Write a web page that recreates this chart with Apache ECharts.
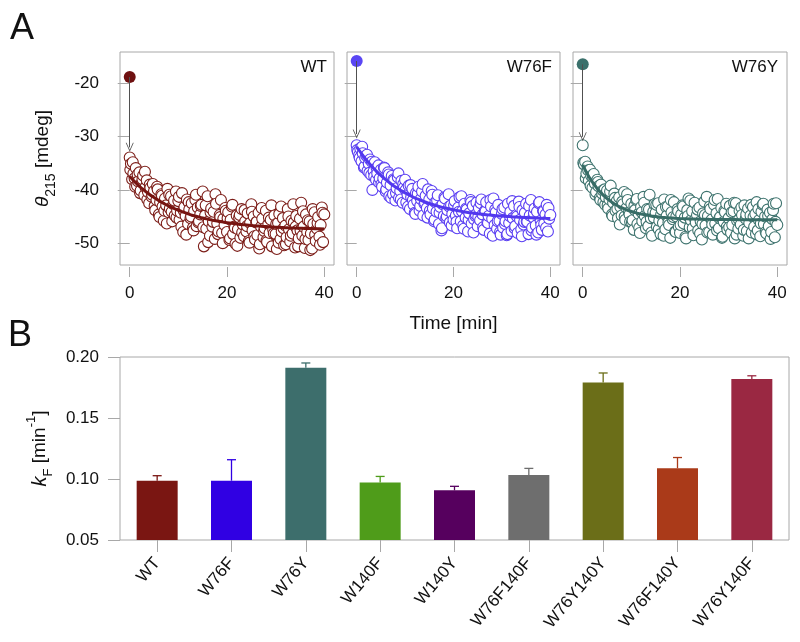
<!DOCTYPE html>
<html><head><meta charset="utf-8">
<script src="https://cdn.jsdelivr.net/npm/echarts@6/dist/echarts.min.js"></script>
<style>html,body{margin:0;padding:0;background:#fff}#c{width:800px;height:642px}</style>
</head><body><div id="c"></div>
<script>
// ---------- Panel A data ----------
const TIMES = [
 0,0.25,0.5,0.75,1,1.25,1.5,1.75,2,2.25,2.5,2.75,3,3.25,3.5,3.75,4,4.25,4.5,4.75,
 5,5.25,5.5,5.75,6,6.25,6.5,6.75,7,7.25,7.5,7.75,8,8.25,8.5,8.75,9,9.25,9.5,9.75,
 10,10.25,10.5,10.75,11,11.25,11.5,11.75,12,12.25,12.5,12.75,13,13.25,13.5,13.75,14,14.25,14.5,14.75,
 15,15.25,15.5,15.75,16,16.25,16.5,16.75,17,17.25,17.5,17.75,18,18.25,18.5,18.75,19,19.25,19.5,19.75,
 20,20.25,20.5,20.75,21,21.25,21.5,21.75,22,22.25,22.5,22.75,23,23.25,23.5,23.75,24,24.25,24.5,24.75,
 25,25.25,25.5,25.75,26,26.25,26.5,26.75,27,27.25,27.5,27.75,28,28.25,28.5,28.75,29,29.25,29.5,29.75,
 30,30.25,30.5,30.75,31,31.25,31.5,31.75,32,32.25,32.5,32.75,33,33.25,33.5,33.75,34,34.25,34.5,34.75,
 35,35.25,35.5,35.75,36,36.25,36.5,36.75,37,37.25,37.5,37.75,38,38.25,38.5,38.75,39,39.25,39.5,39.75,
 40];
const WT_VALUES = [
 -33.9,-35.1,-38.0,-36.9,-37.8,-35.9,-39.2,-38.4,-36.7,-40.1,-38.6,-37.3,-41.0,-39.5,-38.2,-40.4,-42.5,-39.6,-41.3,-38.9,
 -40.2,-43.8,-41.9,-39.9,-44.6,-42.3,-40.8,-43.1,-45.8,-41.6,-42.9,-39.8,-44.2,-43.5,-41.2,-45.9,-42.7,-44.8,-40.3,-43.9,
 -42.1,-45.6,-44.3,-40.6,-47.9,-43.2,-44.9,-41.8,-46.4,-43.7,-45.3,-42.5,-47.1,-44.0,-41.9,-46.8,-43.3,-45.9,-44.6,-42.8,
 -40.3,-50.6,-44.8,-47.3,-41.2,-45.9,-48.6,-43.5,-46.9,-44.1,-49.2,-42.6,-46.3,-47.8,-44.7,-41.9,-48.1,-45.4,-46.6,-43.9,
 -47.9,-44.2,-49.4,-45.6,-43.1,-48.3,-46.9,-50.1,-44.8,-47.4,-45.2,-49.0,-43.6,-46.5,-48.7,-45.9,-47.8,-44.4,-49.6,-46.2,
 -42.7,-47.6,-45.0,-49.3,-46.1,-48.5,-44.3,-50.2,-46.9,-45.4,-48.9,-47.2,-43.9,-49.8,-46.4,-48.1,-45.6,-50.6,-47.5,-44.8,
 -48.3,-51.1,-46.2,-44.5,-49.2,-47.8,-45.3,-50.4,-46.7,-48.9,-43.6,-47.4,-49.7,-45.8,-48.2,-46.1,-50.8,-44.9,-47.6,-49.1,
 -45.4,-42.4,-48.6,-46.9,-50.9,-44.6,-47.9,-49.4,-45.9,-48.2,-51.0,-46.4,-44.2,-49.6,-47.3,-45.1,-48.8,-46.6,-43.3,-49.8,
 -44.6];
const W76F_VALUES = [
 -31.6,-32.9,-33.5,-32.2,-34.6,-33.1,-35.8,-34.0,-33.6,-36.4,-35.1,-34.3,-37.2,-40.0,-36.5,-34.8,-38.1,-36.9,-35.4,-37.8,
 -36.2,-39.4,-37.8,-35.9,-40.3,-38.6,-36.7,-41.2,-39.1,-37.4,-40.8,-38.2,-42.0,-39.7,-37.6,-41.5,-40.2,-38.3,-42.4,-39.6,
 -38.1,-42.3,-40.9,-39.2,-43.6,-41.4,-39.8,-42.8,-44.3,-40.6,-42.1,-39.4,-43.9,-41.7,-40.3,-44.8,-42.6,-41.1,-43.4,-39.9,
 -41.8,-44.6,-40.2,-43.5,-45.9,-42.3,-44.1,-41.0,-46.4,-43.2,-47.6,-42.7,-44.9,-41.6,-45.3,-43.8,-40.8,-46.1,-42.9,-44.5,
 -45.6,-42.1,-44.8,-47.2,-43.3,-41.4,-45.9,-44.0,-46.7,-42.6,-45.2,-43.7,-47.8,-44.4,-41.9,-46.3,-43.0,-45.5,-44.9,-42.4,
 -46.8,-43.4,-45.7,-41.8,-44.6,-47.5,-43.9,-42.3,-46.1,-44.9,-48.2,-43.1,-45.4,-41.6,-46.6,-44.2,-47.3,-42.8,-45.8,-48.4,
 -44.5,-47.1,-43.3,-45.9,-48.5,-42.6,-46.2,-44.1,-47.7,-45.3,-43.0,-46.8,-44.7,-48.1,-42.2,-45.6,-47.4,-43.8,-46.5,-44.3,
 -42.6,-46.0,-48.3,-44.8,-41.9,-47.1,-45.2,-43.5,-46.7,-44.1,-48.0,-42.3,-45.8,-47.5,-43.9,-46.3,-44.6,-42.8,-47.8,-45.4,
 -44.7];
const W76Y_VALUES = [
 -31.6,-35.2,-34.7,-36.9,-35.6,-38.3,-36.2,-37.4,-39.6,-37.0,-38.8,-40.4,-38.1,-39.3,-41.5,-39.0,-40.7,-42.3,-39.9,-41.4,
 -40.1,-43.5,-41.8,-39.2,-44.6,-42.4,-40.7,-43.9,-42.1,-45.3,-41.4,-43.2,-44.8,-42.7,-40.4,-45.6,-43.4,-41.9,-44.2,-46.0,
 -42.6,-45.7,-47.5,-43.8,-41.9,-46.4,-44.5,-48.1,-43.2,-45.9,-41.3,-44.9,-47.2,-43.6,-46.8,-40.9,-45.3,-48.6,-44.1,-42.7,
 -44.3,-46.9,-42.5,-45.8,-48.3,-43.7,-46.2,-41.8,-47.4,-44.9,-43.1,-46.6,-49.0,-44.2,-45.5,-42.3,-47.8,-45.0,-43.6,-46.9,
 -48.1,-44.6,-42.9,-46.3,-45.2,-49.1,-43.8,-41.6,-47.0,-45.7,-44.0,-48.5,-42.4,-46.1,-44.7,-47.6,-43.3,-45.9,-49.3,-44.4,
 -42.2,-46.7,-41.3,-44.9,-47.9,-43.6,-45.6,-48.4,-42.8,-46.3,-44.4,-41.7,-47.2,-45.1,-43.4,-48.8,-46.0,-44.2,-42.6,-47.5,
 -45.3,-43.0,-48.1,-46.6,-44.0,-49.1,-42.5,-45.8,-47.3,-43.9,-46.5,-44.7,-48.6,-42.9,-45.4,-47.7,-43.5,-46.2,-44.8,-48.0,
 -43.2,-46.9,-44.5,-42.3,-47.6,-45.7,-48.7,-44.1,-42.8,-46.4,-45.0,-48.2,-43.7,-46.8,-44.3,-47.9,-45.5,-42.6,-48.9,-42.5,
 -46.6];
// interleaved extra readings (between the main time points)
const EXTRA_TIMES = [
 0.125,0.625,1.125,1.625,2.125,2.625,3.125,3.625,4.125,4.625,
 5.125,5.625,6.125,6.625,7.125,7.625,8.125,8.625,9.125,9.625,
 10.125,10.625,11.125,11.625,12.125,12.625,13.125,13.625,14.125,14.625,
 15.125,15.625,16.125,16.625,17.125,17.625,18.125,18.625,19.125,19.625,
 20.125,20.625,21.125,21.625,22.125,22.625,23.125,23.625,24.125,24.625,
 25.125,25.625,26.125,26.625,27.125,27.625,28.125,28.625,29.125,29.625,
 30.125,30.625,31.125,31.625,32.125,32.625,33.125,33.625,34.125,34.625,
 35.125,35.625,36.125,36.625,37.125,37.625,38.125,38.625,39.125,39.625];
const WT_EXTRA = [
 -36.2,-34.8,-39.4,-37.1,-40.6,-38.0,-36.6,-41.8,-39.0,-40.9,
 -43.0,-39.4,-45.1,-41.1,-43.9,-46.3,-40.9,-44.1,-42.0,-45.2,
 -41.3,-46.9,-43.9,-48.4,-42.3,-45.0,-47.6,-40.9,-46.1,-43.0,
 -47.0,-42.9,-49.8,-44.2,-46.0,-40.8,-48.3,-45.1,-50.0,-43.4,
 -45.3,-49.1,-42.8,-47.1,-50.5,-44.7,-48.0,-43.8,-46.8,-49.9,
 -44.1,-48.7,-46.0,-51.0,-43.4,-47.7,-49.5,-45.2,-42.9,-48.2,
 -46.4,-49.9,-43.1,-47.2,-50.2,-45.0,-48.6,-42.7,-46.9,-50.6,
 -47.6,-44.0,-49.2,-45.7,-51.3,-43.6,-48.4,-46.2,-50.3,-44.3];
const W76F_EXTRA = [
 -32.5,-34.0,-31.9,-35.6,-33.4,-36.8,-34.7,-37.5,-35.9,-38.6,
 -38.9,-35.8,-39.9,-37.1,-41.5,-38.0,-40.6,-36.9,-41.8,-38.9,
 -40.0,-43.1,-39.1,-41.9,-44.5,-40.7,-43.0,-38.9,-42.4,-45.2,
 -43.9,-40.9,-45.6,-42.0,-44.3,-47.2,-41.4,-45.0,-43.1,-46.7,
 -42.9,-46.0,-44.1,-41.2,-47.3,-43.5,-45.6,-42.3,-48.0,-44.6,
 -45.1,-42.5,-47.0,-44.0,-46.2,-41.9,-48.6,-43.7,-45.9,-47.9,
 -43.6,-46.4,-48.3,-44.9,-42.1,-47.2,-45.0,-43.2,-48.7,-46.0,
 -45.9,-43.0,-47.6,-44.4,-48.4,-42.5,-46.6,-44.0,-47.1,-43.4];
const W76Y_EXTRA = [
 -34.9,-37.8,-36.3,-39.2,-37.6,-40.9,-38.5,-41.9,-40.1,-42.8,
 -42.9,-40.3,-44.9,-41.5,-43.6,-46.5,-42.2,-45.0,-40.8,-44.6,
 -46.1,-43.0,-41.7,-47.1,-44.2,-42.4,-46.0,-43.7,-48.0,-45.2,
 -42.8,-47.4,-44.6,-48.6,-43.2,-46.1,-41.9,-45.1,-47.9,-44.0,
 -46.6,-43.1,-48.8,-44.9,-42.0,-47.2,-45.5,-43.7,-48.2,-46.4,
 -44.7,-48.0,-43.1,-46.5,-41.9,-47.6,-45.3,-49.0,-43.9,-46.9,
 -47.0,-44.2,-42.4,-48.4,-45.6,-43.3,-47.5,-44.6,-49.1,-42.8,
 -45.1,-48.3,-43.6,-46.3,-42.6,-47.9,-44.9,-49.2,-43.8,-46.0];
const FIT_TIMES = [0,1,2,3,4,5,6,7,8,9,10,11,12,13,14,15,16,17,18,19,20,21,22,23,24,25,26,27,28,29,30,31,32,33,34,35,36,37,38,39,40];
const WT_FIT = [-37.5,-38.45,-39.31,-40.09,-40.80,-41.43,-42.01,-42.53,-43.01,-43.43,-43.82,-44.17,-44.49,-44.78,-45.03,-45.27,-45.48,-45.67,-45.85,-46.00,-46.15,-46.28,-46.39,-46.50,-46.59,-46.68,-46.76,-46.83,-46.89,-46.95,-47.00,-47.05,-47.09,-47.13,-47.17,-47.20,-47.23,-47.25,-47.28,-47.30,-47.32];
const W76F_FIT = [-31.90,-33.20,-34.38,-35.45,-36.42,-37.28,-38.08,-38.79,-39.45,-40.02,-40.56,-41.04,-41.48,-41.86,-42.22,-42.54,-42.83,-43.09,-43.34,-43.54,-43.75,-43.93,-44.08,-44.23,-44.35,-44.48,-44.59,-44.68,-44.76,-44.85,-44.91,-44.98,-45.04,-45.09,-45.15,-45.19,-45.23,-45.26,-45.30,-45.33,-45.35];
const W76Y_FIT = [-35.30,-37.08,-38.55,-39.77,-40.78,-41.61,-42.30,-42.88,-43.34,-43.74,-44.05,-44.32,-44.55,-44.72,-44.88,-45.00,-45.11,-45.19,-45.26,-45.32,-45.37,-45.41,-45.45,-45.47,-45.50,-45.51,-45.53,-45.54,-45.55,-45.56,-45.57,-45.57,-45.58,-45.58,-45.58,-45.59,-45.59,-45.59,-45.59,-45.60,-45.60];
const PANEL_NAMES = ['WT','W76F','W76Y'];
const START_VALUES = [-18.8,-15.8,-16.4];
const ARROW_TIPS = [-32.0,-29.5,-30.0];
const A_Y_TICKS = [-50,-40,-30,-20];
const A_X_TICKS = [0,20,40];

// ---------- Panel B data ----------
const MUTANTS = ['WT','W76F','W76Y','W140F','W140Y','W76F140F','W76Y140Y','W76F140Y','W76Y140F'];
const KF = [0.0986,0.0986,0.1912,0.0972,0.0907,0.1033,0.1792,0.1088,0.1819];
const KF_UPPER = [0.1027,0.1158,0.1951,0.1021,0.0940,0.1087,0.1869,0.1176,0.1846];
const B_Y_TICKS = [0.05,0.10,0.15,0.20];

// ---------- styles ----------
const FONT = "'Liberation Sans', Arial, Helvetica, sans-serif";
const TXT = '#111';
const GRAY = '#a8a8a8';
const A_STROKE = ['#7c1d18','#5a3ff2','#3e736e'];
const A_LINE = ['#761410','#5238ee','#376c66'];
const A_START = ['#6e1010','#5a46f4','#3a706b'];
const BAR_COLORS = ['#7a1612','#3000e3','#3d6e6c','#4f9c1a','#56005e','#6e6e6e','#6b6e18','#aa3a19','#9a2842'];
const A_VALUES = [WT_VALUES, W76F_VALUES, W76Y_VALUES];
const A_EXTRA = [WT_EXTRA, W76F_EXTRA, W76Y_EXTRA];
const A_FITS = [WT_FIT, W76F_FIT, W76Y_FIT];

const chart = echarts.init(document.getElementById('c'), null, {renderer:'canvas'});

const gridsA = [
  {left:120, top:52, width:214, height:213},
  {left:347, top:52, width:213, height:213},
  {left:573, top:52, width:214, height:213}
];
const grids = gridsA.map(g => Object.assign({show:true, borderColor:GRAY, borderWidth:1, backgroundColor:'transparent'}, g));
grids.push({show:true, borderColor:GRAY, borderWidth:1, left:120, top:357, width:669, height:183, backgroundColor:'transparent'});

const xAxes = [], yAxes = [], series = [];
for (let i = 0; i < 3; i++) {
  const pts = TIMES.map((t, j) => [t, A_VALUES[i][j]])
    .concat(EXTRA_TIMES.map((t, j) => [t, A_EXTRA[i][j]]))
    .sort((a, b) => a[0] - b[0]);
  xAxes.push({
    gridIndex:i, type:'value', min:-2, max:42, offset:2,
    axisLine:{show:false},
    axisTick:{show:true, length:10, customValues:A_X_TICKS, lineStyle:{color:GRAY}},
    axisLabel:{customValues:A_X_TICKS, margin:18, fontSize:17, color:TXT, fontFamily:FONT},
    splitLine:{show:false},
    name: i === 1 ? 'Time [min]' : '',
    nameLocation:'middle', nameGap:47,
    nameTextStyle:{fontSize:19, color:TXT, fontFamily:FONT}
  });
  yAxes.push({
    gridIndex:i, type:'value', min:-54.1, max:-14.1,
    axisLine:{show:false},
    axisTick:{show:true, length:12, customValues:A_Y_TICKS, lineStyle:{color:GRAY}},
    axisLabel:{show:i === 0, customValues:A_Y_TICKS, margin:21, fontSize:17, color:TXT, fontFamily:FONT},
    splitLine:{show:false},
    name: i === 0 ? '{it|θ}{sub|215} [mdeg]' : '',
    nameLocation:'middle', nameGap:62, nameRotate:90,
    nameTextStyle:{fontSize:19, color:TXT, fontFamily:FONT, lineHeight:30,
      rich:{
        it:{fontSize:19, fontStyle:'italic', fontFamily:FONT, color:TXT, lineHeight:30},
        sub:{fontSize:14, fontFamily:FONT, color:TXT, lineHeight:14, verticalAlign:'bottom'}
      }}
  });
  series.push({
    type:'scatter', xAxisIndex:i, yAxisIndex:i, silent:true, symbol:'circle', symbolSize:11,
    itemStyle:{color:'#ffffff', borderColor:A_STROKE[i], borderWidth:1.1, opacity:1},
    data: pts, z:2
  });
  series.push({
    type:'line', xAxisIndex:i, yAxisIndex:i, silent:true, showSymbol:false, smooth:true,
    lineStyle:{color:A_LINE[i], width:3},
    data: FIT_TIMES.map((t, j) => [t, A_FITS[i][j]]), z:3
  });
  series.push({
    type:'scatter', xAxisIndex:i, yAxisIndex:i, silent:true, symbolSize:12,
    itemStyle:{color:A_START[i], opacity:1},
    data:[[0, START_VALUES[i]]], z:4,
    markLine:{
      silent:true, animation:false,
      symbol:['none','path://M0,10L5,0L10,10L9,10L5,2.2L1,10Z'], symbolSize:[8,9],
      lineStyle:{color:'#505050', width:1, type:'solid'},
      label:{show:false}, emphasis:{disabled:true},
      data:[[{coord:[0, START_VALUES[i]]},{coord:[0, ARROW_TIPS[i]]}]]
    }
  });
}

// Panel B axes
xAxes.push({
  gridIndex:3, type:'category', data:MUTANTS, boundaryGap:true,
  axisLine:{show:false},
  axisTick:{show:true, alignWithLabel:true, length:12, lineStyle:{color:GRAY}},
  axisLabel:{rotate:50, margin:20, fontSize:17, color:TXT, fontFamily:FONT, interval:0},
  splitLine:{show:false}
});
yAxes.push({
  gridIndex:3, type:'value', min:0.05, max:0.20, interval:0.05,
  axisLine:{show:false},
  axisTick:{show:true, length:12, lineStyle:{color:GRAY}},
  axisLabel:{margin:21, fontSize:17, color:TXT, fontFamily:FONT, formatter:v => v.toFixed(2)},
  splitLine:{show:false},
  name:'{it|k}{sub|F} [min{sup|-1}]',
  nameLocation:'middle', nameGap:64, nameRotate:90,
  nameTextStyle:{fontSize:19, color:TXT, fontFamily:FONT, lineHeight:30,
    rich:{
      it:{fontSize:20, fontStyle:'italic', fontFamily:FONT, color:TXT, lineHeight:30},
      sub:{fontSize:13, fontFamily:FONT, color:TXT, lineHeight:13, verticalAlign:'bottom'},
      sup:{fontSize:13, fontFamily:FONT, color:TXT, lineHeight:13, verticalAlign:'top'}
    }}
});
series.push({
  type:'bar', xAxisIndex:3, yAxisIndex:3, silent:true, barWidth:41,
  data: KF.map((v, i) => ({value:v, itemStyle:{color:BAR_COLORS[i]}})), z:2
});
series.push({
  type:'custom', xAxisIndex:3, yAxisIndex:3, silent:true, z:3,
  data: KF.map((v, i) => [i, v, KF_UPPER[i]]),
  renderItem: (params, api) => {
    const i = api.value(0);
    const p0 = api.coord([i, api.value(1)]);
    const p1 = api.coord([i, api.value(2)]);
    const c = BAR_COLORS[params.dataIndex];
    return {type:'group', children:[
      {type:'line', shape:{x1:p0[0], y1:p0[1], x2:p1[0], y2:p1[1]}, style:{stroke:c, lineWidth:1.3}},
      {type:'line', shape:{x1:p1[0]-4.5, y1:p1[1], x2:p1[0]+4.5, y2:p1[1]}, style:{stroke:c, lineWidth:1.3}}
    ]};
  }
});

const titles = [
  {text:'A', left:10, top:11, padding:0, textStyle:{fontSize:36, fontWeight:'normal', color:TXT, fontFamily:FONT}},
  {text:'B', left:8, top:318, padding:0, textStyle:{fontSize:36, fontWeight:'normal', color:TXT, fontFamily:FONT}},
  {text:'WT', right:473, top:59, padding:0, textStyle:{fontSize:17, fontWeight:'normal', color:TXT, fontFamily:FONT}},
  {text:'W76F', right:248, top:59, padding:0, textStyle:{fontSize:17, fontWeight:'normal', color:TXT, fontFamily:FONT}},
  {text:'W76Y', right:22, top:59, padding:0, textStyle:{fontSize:17, fontWeight:'normal', color:TXT, fontFamily:FONT}}
];

chart.setOption({
  animation:false,
  backgroundColor:'#ffffff',
  title:titles,
  grid:grids,
  xAxis:xAxes,
  yAxis:yAxes,
  series:series
});
</script></body></html>
